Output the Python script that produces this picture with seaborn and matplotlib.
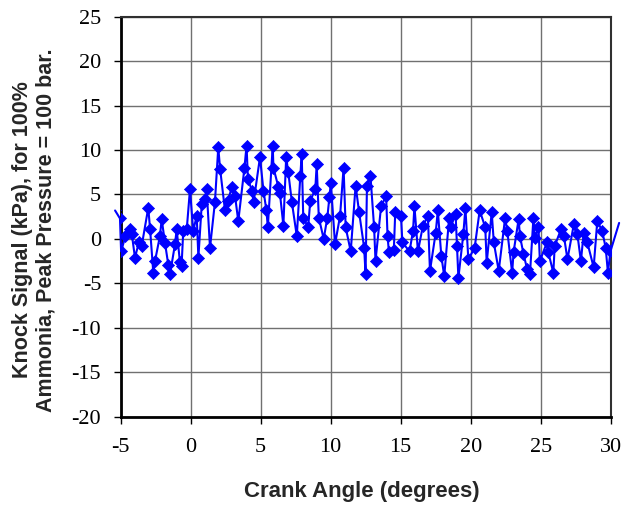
import numpy as np
import pandas as pd
import matplotlib
matplotlib.use("Agg")
import matplotlib.pyplot as plt
import seaborn as sns

# Crank angle (degrees) and knock signal (kPa) samples
crank_angle = [
    -5.40, -5.05, -4.97, -4.66, -4.33, -4.21, -3.98, -3.70, -3.50, -3.03, -2.90,
    -2.67, -2.55, -2.20, -2.07, -1.83, -1.60, -1.48, -1.12, -1.00, -0.77,
    -0.65, -0.53, -0.28, -0.05, 0.18, 0.43, 0.55, 0.79, 1.02, 1.14, 1.38,
    1.73, 1.97, 2.10, 2.45, 2.67, 2.93, 3.17, 3.40, 3.84, 3.99, 4.09, 4.39,
    4.49, 4.95, 5.20, 5.41, 5.51, 5.86, 5.91, 6.27, 6.37, 6.62, 6.82, 6.97,
    7.23, 7.58, 7.83, 7.93, 8.04, 8.39, 8.54, 8.90, 9.00, 9.15, 9.50, 9.76,
    9.91, 10.01, 10.31, 10.67, 10.92, 11.07, 11.43, 11.78, 12.03, 12.39,
    12.49, 12.59, 12.84, 13.10, 13.20, 13.60, 13.96, 14.06, 14.16, 14.51,
    14.61, 15.02, 15.12, 15.63, 15.88, 15.98, 16.23, 16.59, 16.94, 17.09,
    17.50, 17.65, 17.90, 18.11, 18.46, 18.56, 18.92, 19.02, 19.12, 19.47,
    19.62, 19.83, 20.28, 20.64, 21.04, 21.14, 21.50, 21.65, 22.00, 22.46,
    22.61, 22.96, 23.06, 23.42, 23.52, 23.77, 24.03, 24.23, 24.48, 24.58,
    24.84, 24.94, 25.44, 25.54, 25.90, 26.00, 26.45, 26.66, 26.91, 27.37,
    27.62, 27.87, 28.07, 28.33, 28.78, 29.04, 29.39, 29.64, 29.80, 29.98,
    30.60,
]
knock_signal = [
    3.2, 2.3, -1.4, 0.3, 1.1, 0.6, -2.1, -0.4, -0.8, 3.5, 1.1,
    -3.8, -2.5, 0.3, 2.2, -0.5, -2.9, -4.0, -0.6, 1.1, -2.6,
    -3.0, 0.9, 1.1, 5.6, 0.9, 2.6, -2.1, 3.9, 4.5, 5.6, -1.0,
    4.1, 10.3, 7.9, 3.2, 4.3, 5.8, 4.8, 2.0, 8.0, 10.5, 6.7, 5.4,
    4.1, 9.2, 5.4, 3.2, 1.3, 10.5, 8.0, 5.8, 5.2, 1.5, 9.2, 7.5,
    4.1, 0.3, 7.1, 9.5, 2.4, 1.3, 4.3, 5.6, 8.4, 2.4, 0.0, 2.4,
    4.7, 6.3, -0.6, 2.6, 8.0, 1.3, -1.4, 6.0, 3.0, -1.0,
    -4.0, 6.0, 7.1, 1.3, -2.5, 3.7, 4.8, 0.3, -1.5, -1.2,
    3.0, 2.6, -0.4, -1.4, 0.9, 3.7, -1.4, 1.5, 2.6, -3.6,
    0.7, 3.2, -1.9, -4.2, 2.4, 1.3, 2.8, -0.8, -4.4, 0.5,
    3.5, -2.3, -1.0, 3.2, 1.3, -2.7, 3.0, -0.4, -3.6, 2.4,
    0.9, -3.8, -1.5, 2.2, 0.3, -1.7, -3.4, -4.0, 2.4, 0.1,
    1.3, -2.5, -0.4, -1.5, -3.8, -0.8, 1.1, 0.3, -2.3, 1.7,
    0.5, -2.5, 0.7, -0.4, -3.2, 2.0, 0.9, -1.0, -3.8, -1.4,
    1.8,
]

y_ticks = [-20, -15, -10, -5, 0, 5, 10, 15, 20, 25]
x_ticks = [-5, 0, 5, 10, 15, 20, 25, 30]
x_label = "Crank Angle (degrees)"
y_label = "Knock Signal (kPa), for 100%\nAmmonia, Peak Pressure = 100 bar."

df = pd.DataFrame({"angle": crank_angle, "signal": knock_signal})

sns.set_style("white")
plt.rcParams["axes.unicode_minus"] = False
plt.rcParams["font.family"] = ["Liberation Serif", "DejaVu Serif"]

fig = plt.figure(figsize=(6.23, 5.05), dpi=100)
ax = fig.add_axes([0.1937, 0.1749, 0.7866, 0.7920])

blue = "#0000ff"
sns.lineplot(data=df, x="angle", y="signal", sort=False, estimator=None,
             color=blue, linewidth=1.5, ax=ax, zorder=3)
for ln in ax.lines:
    ln.set_clip_on(False)
sns.scatterplot(data=df, x="angle", y="signal", marker="D", s=38,
                color=blue, edgecolor=blue, linewidth=0.5, ax=ax, zorder=4)

ax.set_xlim(-5, 30)
ax.set_ylim(-20, 25)
ax.set_xticks(x_ticks)
ax.set_yticks(y_ticks)
ax.set_xticklabels([str(t) for t in x_ticks])
ax.set_yticklabels([str(t) for t in y_ticks])
ax.grid(True, color="#707070", linewidth=1.0)
ax.set_axisbelow(True)

ax.tick_params(axis="both", direction="out", length=5, width=1,
               color="black", labelsize=16, labelcolor="black")
ax.tick_params(axis="y", pad=9)
ax.tick_params(axis="x", pad=10)
ax.tick_params(left=True, bottom=True)

for side in ["left", "bottom"]:
    ax.spines[side].set_color("black")
    ax.spines[side].set_linewidth(2.0)
for side in ["top", "right"]:
    ax.spines[side].set_color("#303030")
    ax.spines[side].set_linewidth(1.5)

ax.set_xlabel("")
ax.set_ylabel("")
sans = ["Liberation Sans", "DejaVu Sans"]
fig.text(0.581, 0.026, x_label, ha="center", va="center",
         fontsize=16, fontweight="bold", family=sans)
fig.text(0.055, 0.545, y_label, ha="center", va="center", rotation=90,
         multialignment="center", linespacing=1.2,
         fontsize=15.5, fontweight="bold", family=sans)

fig.savefig("out.png", dpi=100)
